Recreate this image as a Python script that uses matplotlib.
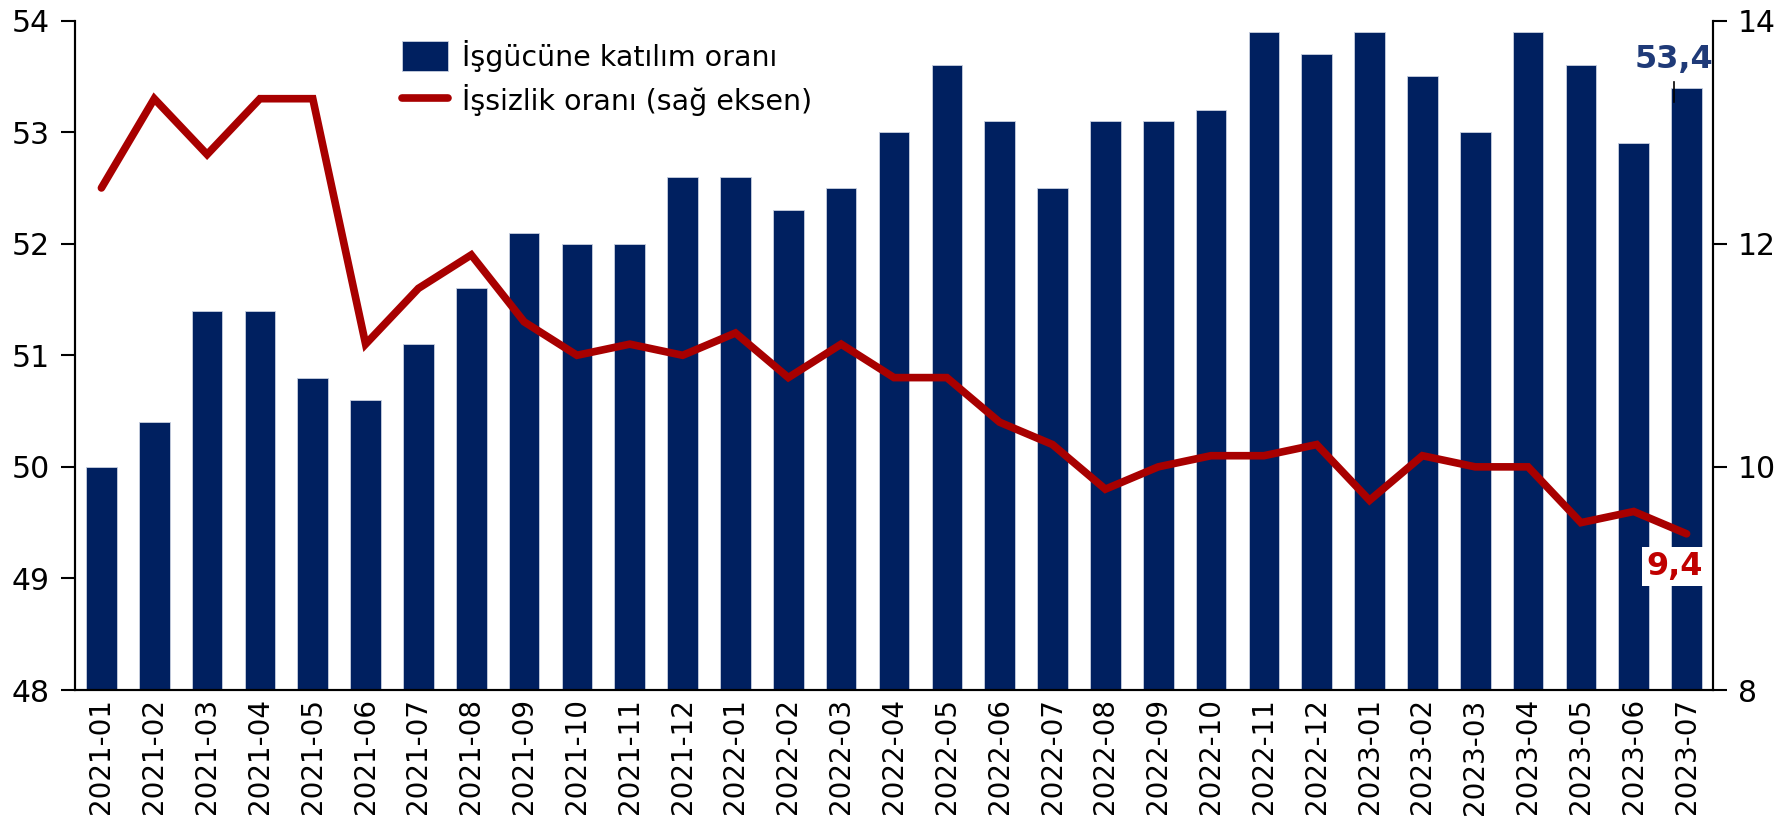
import matplotlib
matplotlib.use('Agg')
import matplotlib.pyplot as plt
import numpy as np

# data
months = ['2021-01', '2021-02', '2021-03', '2021-04', '2021-05', '2021-06',
          '2021-07', '2021-08', '2021-09', '2021-10', '2021-11', '2021-12',
          '2022-01', '2022-02', '2022-03', '2022-04', '2022-05', '2022-06',
          '2022-07', '2022-08', '2022-09', '2022-10', '2022-11', '2022-12',
          '2023-01', '2023-02', '2023-03', '2023-04', '2023-05', '2023-06',
          '2023-07']
katilim = [50.0, 50.4, 51.4, 51.4, 50.8, 50.6, 51.1, 51.6, 52.1, 52.0, 52.0, 52.6,
           52.6, 52.3, 52.5, 53.0, 53.6, 53.1, 52.5, 53.1, 53.1, 53.2, 53.9, 53.7,
           53.9, 53.5, 53.0, 53.9, 53.6, 52.9, 53.4]
issizlik = [12.5, 13.3, 12.8, 13.3, 13.3, 11.1, 11.6, 11.9, 11.3, 11.0, 11.1, 11.0,
            11.2, 10.8, 11.1, 10.8, 10.8, 10.4, 10.2, 9.8, 10.0, 10.1, 10.1, 10.2,
            9.7, 10.1, 10.0, 10.0, 9.5, 9.6, 9.4]
left_ticks = [48, 49, 50, 51, 52, 53, 54]
right_ticks = [8, 10, 12, 14]

barColor = '#002060'
lineColor = '#A80000'

plt.rcParams['font.family'] = ['DejaVu Sans']

fig = plt.figure(figsize=(17.92, 8.21), dpi=100)
ax = fig.add_axes([75/1792, 1 - 690/821, (1713 - 75)/1792, (690 - 20.6)/821])
ax2 = ax.twinx()

x = np.arange(len(months))
bars = ax.bar(x, katilim, width=0.58, color=barColor, edgecolor='#c8d0e0', linewidth=0.6,
              label='İşgücüne katılım oranı', zorder=2)
ax.set_ylim(48, 54)
ax.set_yticks(left_ticks)
ax.set_xlim(-0.5, len(months) - 0.5)
ax.set_xticks(x)
ax.set_xticklabels(months, rotation=90, fontsize=20)
ax.tick_params(axis='x', length=0, pad=6)
ax.tick_params(axis='y', labelsize=21.5, length=10, width=1.5, direction='out', pad=8)

line, = ax2.plot(x, issizlik, color=lineColor, linewidth=5.5, solid_capstyle='round',
                 solid_joinstyle='miter', label='İşsizlik oranı (sağ eksen)', zorder=3)
ax2.set_ylim(8, 14)
ax2.set_yticks(right_ticks)
ax2.tick_params(axis='y', labelsize=21.5, length=10, width=1.5, direction='out', pad=8)

for a in (ax, ax2):
    a.spines['top'].set_visible(False)
    for s in ('left', 'right', 'bottom'):
        a.spines[s].set_linewidth(1.5)

# last value labels
lx = x[-1] - 0.23
ax.text(lx, 53.65, '53,4', ha='center', va='center', fontsize=23, fontweight='bold',
        color='#1F3A78', zorder=5)
ax.plot([lx, lx], [53.45, 53.27], color='black', lw=1.2, zorder=5)
ax2.text(lx, 9.11, '9,4', ha='center', va='center', fontsize=23, fontweight='bold',
         color='#C00000', zorder=5,
         bbox=dict(facecolor='white', edgecolor='none', pad=3))

leg = ax2.legend([bars, line], ['İşgücüne katılım oranı', 'İşsizlik oranı (sağ eksen)'],
                 loc='upper left', bbox_to_anchor=(0.184, 1.01), frameon=False, fontsize=20.5,
                 handlelength=1.6, handleheight=1.2, handletextpad=0.5, labelspacing=0.45)

fig.savefig('out.png', dpi=100)
